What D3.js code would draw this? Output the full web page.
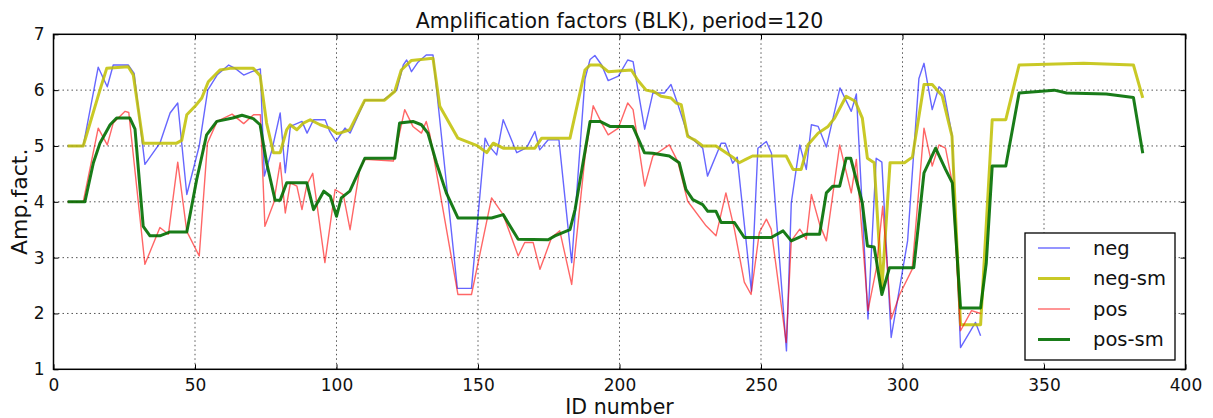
<!DOCTYPE html>
<html>
<head>
<meta charset="utf-8">
<script src="https://cdn.jsdelivr.net/npm/d3@7"></script>
<style>
html,body{margin:0;padding:0;background:#fff;}
svg{display:block;font-family:"DejaVu Sans",sans-serif;}
</style>
</head>
<body>
<svg id="chart" width="1213" height="418"></svg>
<script>
// ---- data ----
const xTicks = [0, 50, 100, 150, 200, 250, 300, 350, 400];
const yTicks = [1, 2, 3, 4, 5, 6, 7];
const seriesNames = ["neg", "neg-sm", "pos", "pos-sm"];
const title = "Amplification factors (BLK), period=120";
const xLabel = "ID number";
const yLabel = "Amp.fact.";

const negIds = [5,10.5,15.8,19,21.1,26.4,28.5,32.3,37.6,41.2,43.9,47.1,51.5,54.5,57.8,61.9,64.2,67.2,70.1,73.1,74.5,77.2,80.1,81.9,83.7,87.8,89.6,91.9,96,97.6,99.8,103,104.8,110.1,116.5,121.3,123.6,124.8,126.5,128.8,131.7,134.1,142.7,147.7,152.5,153.6,156.6,158.9,163.7,167.2,170.1,171.8,174.8,178.6,183.1,187.8,189.6,191.3,193.7,196,199.6,202.9,204.8,208.9,211.8,215.9,218.2,220.6,224.1,229.4,231.1,235.9,237.4,240,241.6,246.6,248.9,251.9,253.7,259,260.7,263.7,266,267.8,270.2,273.1,277.9,281.9,283.7,287.8,290.7,292.7,296,301.8,305.8,307.6,310.5,312.9,314.6,317.5,320.5,325.8,327.6];
const negVals = [5.0,5.0,6.41,6.06,6.45,6.45,6.3,4.67,5.05,5.59,5.77,4.13,5.0,6.0,6.27,6.45,6.39,6.27,6.33,6.38,4.46,4.93,5.59,4.52,5.35,5.44,5.23,5.47,5.47,5.26,5.08,5.32,5.23,5.82,5.82,6.0,6.45,6.54,6.33,6.5,6.63,6.63,2.45,2.45,5.14,5.02,4.84,5.47,4.88,4.97,5.26,4.93,5.11,5.11,2.91,6.2,6.55,6.62,6.45,6.17,6.25,6.54,6.51,5.3,5.95,5.95,6.1,5.75,5.2,4.96,4.46,5.05,5.05,4.69,4.8,2.4,4.96,5.08,4.87,1.33,3.98,5.02,4.58,5.38,5.35,4.98,6.04,5.62,5.93,1.9,4.78,4.71,1.57,3.3,6.21,6.48,5.65,6.06,5.98,5.2,1.39,1.84,1.6];

const posIds = [5,10.5,15.8,19,21.1,25.3,26.6,32.3,37.6,40.6,43.9,47.1,51.5,54.4,57.8,63.1,67.2,70.7,73.1,74.7,77.8,80.1,81.9,83.7,86,87.8,89.5,91.6,95.9,99.5,102.4,104.8,108.2,110,120.1,124.1,127,130,131.7,133,142.9,147.7,154.8,158.9,164.2,166.5,169.5,171.9,176,178.9,183.1,187.8,190.7,193.7,196,199.6,202.9,204.8,208.9,211.8,217.6,220.6,224.1,230.6,234.1,237.6,240.6,244.1,246.5,249.4,251.9,253.6,258.9,260.7,263.7,266,267.8,270.7,273.1,277.8,281.9,283.7,287.8,290.7,293,296,299,303.4,307.6,310.5,312.9,315.2,317.6,320.5,324.4,327.6];
const posVals = [4.0,4.0,5.32,5.02,5.41,5.62,5.6,2.88,3.54,3.42,4.71,3.47,3.03,5.05,5.44,5.57,5.4,5.56,5.56,3.56,3.98,4.7,3.8,4.34,4.28,3.86,4.3,4.51,2.91,4.22,4.13,3.5,4.58,4.76,4.73,5.65,5.35,5.23,5.44,5.2,2.34,2.34,4.07,3.77,3.03,3.27,3.27,2.79,3.36,3.48,2.52,4.8,5.72,5.41,5.2,5.32,5.77,5.65,4.28,4.82,5.02,4.72,4.01,3.57,3.39,4.16,3.51,2.56,2.34,3.45,3.69,3.51,1.48,3.3,3.51,3.33,4.13,3.6,3.3,5.02,4.16,4.76,2.05,2.79,3.92,1.9,2.34,2.79,5.32,4.64,5.02,4.96,4.34,1.69,2.05,2.0];

const negSmIds = [5,10.5,16.4,18.8,26.4,28.2,31.7,43.5,45.3,47.1,50,52.4,54.7,58.8,62.4,70.6,73,75.3,77.7,80.1,82.4,83.6,86,88.3,90.7,94.2,97.6,100,101.1,104.7,110,117,120.6,122.9,126.4,134.1,136.5,142.9,149.9,153.1,155.4,158.9,170.1,172.5,182.5,187.8,189.6,193.1,196,204.2,206.4,209.4,212.3,214.7,218.2,220,221.8,224.1,226.5,229.4,234.1,237,240,242.3,244.6,247,258.9,261.3,264.2,266.6,270.2,273.7,276,280.1,283.3,285.8,287.6,290,292.7,295.6,300.7,303.5,307.6,310.5,314,317.5,320.5,327.6,331.7,336.5,341.2,364,381.6,384.9];
const negSmVals = [5.0,5.0,6.0,6.39,6.42,6.27,5.05,5.05,5.1,5.56,5.71,5.86,6.15,6.36,6.39,6.39,6.26,5.41,4.88,4.88,5.29,5.38,5.29,5.41,5.47,5.38,5.32,5.23,5.23,5.29,5.82,5.82,5.98,6.36,6.53,6.57,5.71,5.14,5.0,4.88,5.05,4.96,4.96,5.14,5.14,6.36,6.45,6.45,6.33,6.36,6.18,6.0,5.97,5.89,5.86,5.77,5.74,5.17,5.11,5.0,5.0,4.9,4.8,4.7,4.76,4.82,4.82,4.58,4.58,5.02,5.23,5.35,5.5,5.89,5.8,5.5,4.78,4.7,2.43,4.7,4.7,4.8,6.1,6.1,5.9,5.17,1.8,1.8,5.47,5.47,6.45,6.48,6.45,5.86];

const posSmIds = [5,11.1,14.1,16.4,20,22.3,27,28.8,31.7,34.1,37.6,41.2,47.1,50.6,54.1,57.7,63.3,66.6,70.6,73,75.3,78.3,80.1,82.4,89.5,91.9,95.5,97.8,100,101.7,104.7,110,120.6,122.3,127,130,132.3,135.3,138.8,142.9,154.8,158.9,164.2,174.8,177.2,182.5,184.3,189.6,193.1,196.6,204.7,208.8,211.7,217.6,221.1,223.5,225.9,229.4,231.2,234.1,235.9,240.6,244.1,253.6,257.8,260.7,266,270.7,273.1,275.4,277.8,280.1,281.7,285.8,287.6,290,290.7,292.7,295.4,304,307.6,311.7,315.2,317.6,320.5,327.6,329.6,331.7,336.5,341.2,353.6,358,372,381.6,384.9];
const posSmVals = [4.0,4.0,4.7,5.05,5.38,5.5,5.5,5.3,3.56,3.39,3.39,3.46,3.46,4.4,5.2,5.44,5.5,5.55,5.49,5.38,4.7,4.03,4.03,4.34,4.34,3.86,4.19,4.1,3.74,4.07,4.19,4.78,4.78,5.41,5.44,5.38,5.23,4.7,4.16,3.71,3.71,3.77,3.33,3.32,3.39,3.5,3.86,5.44,5.44,5.35,5.35,4.88,4.87,4.82,4.7,4.22,4.04,3.95,3.83,3.83,3.63,3.63,3.36,3.36,3.48,3.3,3.42,3.42,4.16,4.28,4.28,4.78,4.78,3.98,3.21,3.19,2.97,2.34,2.82,2.82,4.52,4.96,4.58,4.34,2.1,2.1,2.9,4.64,4.64,5.95,6.0,5.95,5.93,5.87,4.87];

// ---- layout ----
const svg = d3.select("#chart");
const L = 53.5, R = 1185.5, T = 34.3, B = 369.3;
const x = d3.scaleLinear().domain([0, 400]).range([L, R]);
const y = d3.scaleLinear().domain([1, 7]).range([B, T]);

const series = [
  {name: seriesNames[0], ids: negIds, vals: negVals, color: "#0000ff", width: 1.4, opacity: 0.6},
  {name: seriesNames[1], ids: negSmIds, vals: negSmVals, color: "#bfbf00", width: 3, opacity: 0.85},
  {name: seriesNames[2], ids: posIds, vals: posVals, color: "#ff0000", width: 1.4, opacity: 0.6},
  {name: seriesNames[3], ids: posSmIds, vals: posSmVals, color: "#006e00", width: 3, opacity: 0.9}
];

// grid
const grid = svg.append("g");
grid.selectAll("line.gx").data(xTicks.slice(1, -1)).enter().append("line")
  .attr("x1", d => x(d)).attr("x2", d => x(d)).attr("y1", T).attr("y2", B)
  .attr("stroke", "#555").attr("stroke-width", 1).attr("stroke-dasharray", "1.5,3");
grid.selectAll("line.gy").data(yTicks.slice(1, -1)).enter().append("line")
  .attr("y1", d => y(d)).attr("y2", d => y(d)).attr("x1", L).attr("x2", R)
  .attr("stroke", "#555").attr("stroke-width", 1).attr("stroke-dasharray", "1.5,3");

// lines
const line = d3.line().x(d => x(d[0])).y(d => y(d[1]));
const plot = svg.append("g");
series.forEach(s => {
  const pts = s.ids.map((id, i) => [id, s.vals[i]]);
  plot.append("path").datum(pts)
    .attr("d", line)
    .attr("fill", "none")
    .attr("stroke", s.color)
    .attr("stroke-width", s.width)
    .attr("stroke-opacity", s.opacity)
    .attr("stroke-linejoin", "round");
});

// axes (ticks inward)
const fs = 17;
const xAxisB = d3.axisBottom(x).tickValues(xTicks).tickSize(-5).tickPadding(10).tickFormat(d3.format("d"));
const xAxisT = d3.axisTop(x).tickValues(xTicks).tickSize(-5).tickFormat("");
const yAxisL = d3.axisLeft(y).tickValues(yTicks).tickSize(-5).tickPadding(9).tickFormat(d3.format("d"));
const yAxisR = d3.axisRight(y).tickValues(yTicks).tickSize(-5).tickFormat("");

function style(g) {
  g.select(".domain").remove();
  g.selectAll(".tick line").attr("stroke", "#000").attr("stroke-width", 1);
  g.selectAll("text").attr("font-size", fs).attr("fill", "#111").attr("font-family", "DejaVu Sans");
}
svg.append("g").attr("transform", `translate(0,${B})`).call(xAxisB).call(style);
svg.append("g").attr("transform", `translate(0,${T})`).call(xAxisT).call(style);
svg.append("g").attr("transform", `translate(${L},0)`).call(yAxisL).call(style);
svg.append("g").attr("transform", `translate(${R},0)`).call(yAxisR).call(style);

// frame
svg.append("rect").attr("x", L).attr("y", T).attr("width", R - L).attr("height", B - T)
  .attr("fill", "none").attr("stroke", "#000").attr("stroke-width", 1.5);

// title & labels
svg.append("text").attr("x", (L + R) / 2).attr("y", 28).attr("text-anchor", "middle")
  .attr("font-size", 20.5).attr("fill", "#111").text(title);
svg.append("text").attr("x", (L + R) / 2).attr("y", 414).attr("text-anchor", "middle")
  .attr("font-size", 20.5).attr("fill", "#111").text(xLabel);
svg.append("text").attr("transform", `translate(27,${(T + B) / 2}) rotate(-90)`).attr("text-anchor", "middle")
  .attr("font-size", 22).attr("fill", "#111").text(yLabel);

// legend
const lg = svg.append("g");
lg.append("rect").attr("x", 1025).attr("y", 233).attr("width", 150).attr("height", 127)
  .attr("fill", "#fff").attr("stroke", "#000").attr("stroke-width", 1.3);
series.forEach((s, i) => {
  const yy = 248 + i * 30.5;
  lg.append("line").attr("x1", 1038).attr("x2", 1070).attr("y1", yy).attr("y2", yy)
    .attr("stroke", s.color).attr("stroke-width", s.width).attr("stroke-opacity", s.opacity);
  lg.append("text").attr("x", 1093).attr("y", yy).attr("dy", "0.35em")
    .attr("font-size", 19.5).attr("fill", "#111").text(s.name);
});
</script>
</body>
</html>
